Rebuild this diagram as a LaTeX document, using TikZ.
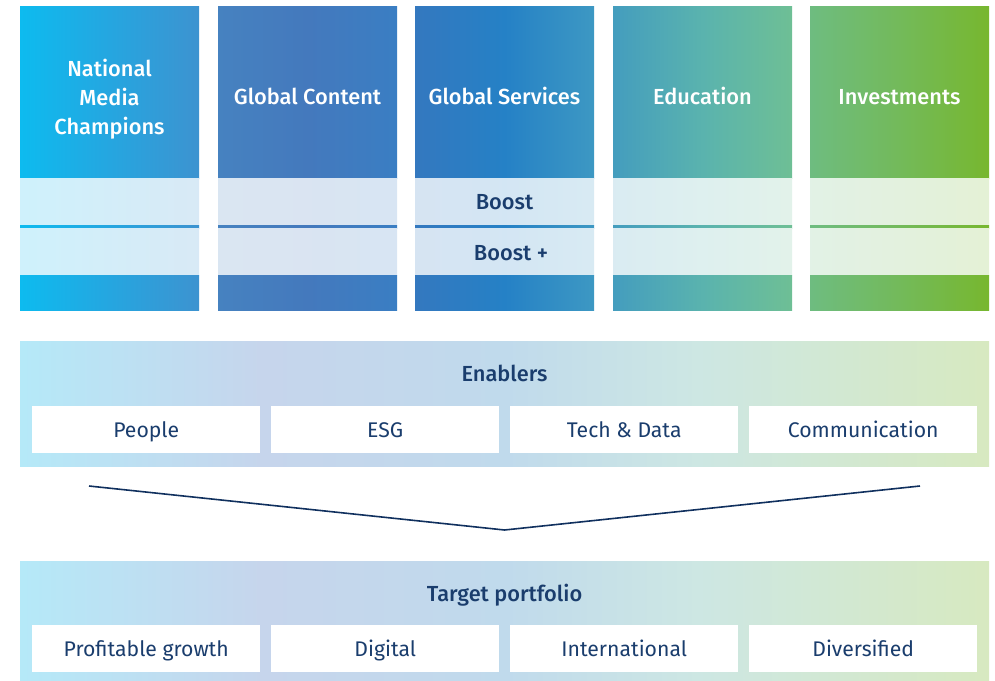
\documentclass[tikz,border=0pt]{standalone}
\usepackage{fontspec}
\setmainfont{Fira Sans}
\newfontfamily\medfont{Fira Sans Medium}
\definecolor{c1a}{HTML}{0DBBEF}\definecolor{c1m}{HTML}{25A6E0}\definecolor{c1b}{HTML}{3D93D0}
\definecolor{c2a}{HTML}{4682C0}\definecolor{c2m}{HTML}{4479BD}\definecolor{c2b}{HTML}{3A7EC3}
\definecolor{c3a}{HTML}{3478BF}\definecolor{c3m}{HTML}{2581C6}\definecolor{c3b}{HTML}{3D98C3}
\definecolor{c4a}{HTML}{449DBE}\definecolor{c4m}{HTML}{5AB3AE}\definecolor{c4b}{HTML}{6EBF95}
\definecolor{c5a}{HTML}{6EBC80}\definecolor{c5m}{HTML}{73BA5A}\definecolor{c5b}{HTML}{77B72F}
\foreach \i in {1,...,5}{%
  \colorlet{l\i a}{c\i a!20!white}\colorlet{l\i m}{c\i m!20!white}\colorlet{l\i b}{c\i b!20!white}%
  \pgfdeclarehorizontalshading{sh\i}{100bp}{color(0bp)=(c\i a); color(25bp)=(c\i a); color(50bp)=(c\i m); color(75bp)=(c\i b); color(100bp)=(c\i b)}%
  \pgfdeclarehorizontalshading{shl\i}{100bp}{color(0bp)=(l\i a); color(25bp)=(l\i a); color(50bp)=(l\i m); color(75bp)=(l\i b); color(100bp)=(l\i b)}%
}
\definecolor{ba}{HTML}{B5E9F8}\definecolor{bb}{HTML}{C6D5EC}\definecolor{bc}{HTML}{C0DAEC}
\definecolor{bd}{HTML}{CDE7E3}\definecolor{be}{HTML}{D7E9C0}
\pgfdeclarehorizontalshading{shband}{100bp}{color(0bp)=(ba); color(25bp)=(ba); color(37.5bp)=(bb); color(50bp)=(bc); color(60bp)=(bd); color(75bp)=(be); color(100bp)=(be)}
\definecolor{navy}{HTML}{1A3D6D}
\definecolor{linecol}{HTML}{10305E}
\tikzset{
  blk/.style={draw=none, inner sep=0pt, outer sep=0pt, anchor=north west, minimum width=179pt},
  headmulti/.style={text=white, font=\medfont\fontsize{21.8}{29}\selectfont, align=center, inner sep=0pt},
  headtxt/.style={text=white, font=\medfont\fontsize{21.8}{29}\selectfont, inner sep=0pt, text height=15pt, text depth=0pt},
  boldtxt/.style={text=navy, font=\medfont\fontsize{21.8}{25}\selectfont, inner sep=0pt, text height=15pt, text depth=0pt},
  boxtxt/.style={text=navy, font=\fontsize{21.2}{25}\selectfont, inner sep=0pt, text height=14.7pt, text depth=0pt},
  wbox/.style={fill=white, draw=none, inner sep=0pt, anchor=north west, minimum width=228pt, minimum height=47pt},
  band/.style={shading=shband, draw=none, inner sep=0pt, anchor=north west, minimum width=969pt},
  chev/.style={draw=linecol, line width=1.6pt, line join=miter}
}
\begin{document}
\begin{tikzpicture}[x=1pt,y=-1pt]
\useasboundingbox (0,0) rectangle (995,680);
% columns
\foreach \i/\x in {1/20,2/218,3/415,4/613,5/810}{
  \node[blk, shading=sh\i, minimum height=172pt] (h\i) at (\x,6) {};
  \node[blk, shading=shl\i, minimum height=47pt] (ba\i) at (\x,178) {};
  \node[blk, shading=sh\i, minimum height=3pt] (dv\i) at (\x,225) {};
  \node[blk, shading=shl\i, minimum height=47pt] (bb\i) at (\x,228) {};
  \node[blk, shading=sh\i, minimum height=35pt] (ft\i) at (\x,275) {};
}
\node[headmulti] (t1) at (109.5,99.5) {National\\Media\\Champions};
\node[headtxt] (t2) at (307.5,97) {Global Content};
\node[headtxt] (t3) at (504.5,97) {Global Services};
\node[headtxt] (t4) at (702.5,97) {Education};
\node[headtxt] (t5) at (899.5,97) {Investments};
\node[boldtxt] (boost) at (504.5,202) {Boost};
\node[boldtxt] (boostp) at (511,253) {Boost +};
% enablers
\node[band, minimum height=125pt] (en) at (20,341) {};
\node[boldtxt] (enl) at (504.5,374) {Enablers};
\node[wbox] (e1) at (32,406) {};
\node[wbox] (e2) at (271,406) {};
\node[wbox] (e3) at (510,406) {};
\node[wbox] (e4) at (749,406) {};
\node[boxtxt] at (e1.center) {People};
\node[boxtxt] at (e2.center) {ESG};
\node[boxtxt] at (e3.center) {Tech \& Data};
\node[boxtxt] at (e4.center) {Communication};
% chevron
\coordinate (cl) at (89,486);
\coordinate (cm) at (504.5,530);
\coordinate (cr) at (920,486);
\draw[chev] (cl) -- (cm) -- (cr);
% target portfolio
\node[band, minimum height=119pt] (tp) at (20,561) {};
\node[boldtxt] (tpl) at (504.5,594) {Target portfolio};
\node[wbox] (p1) at (32,625) {};
\node[wbox] (p2) at (271,625) {};
\node[wbox] (p3) at (510,625) {};
\node[wbox] (p4) at (749,625) {};
\node[boxtxt] at (p1.center) {Profitable growth};
\node[boxtxt] at (p2.center) {Digital};
\node[boxtxt] at (p3.center) {International};
\node[boxtxt] at (p4.center) {Diversified};
\end{tikzpicture}
\end{document}
